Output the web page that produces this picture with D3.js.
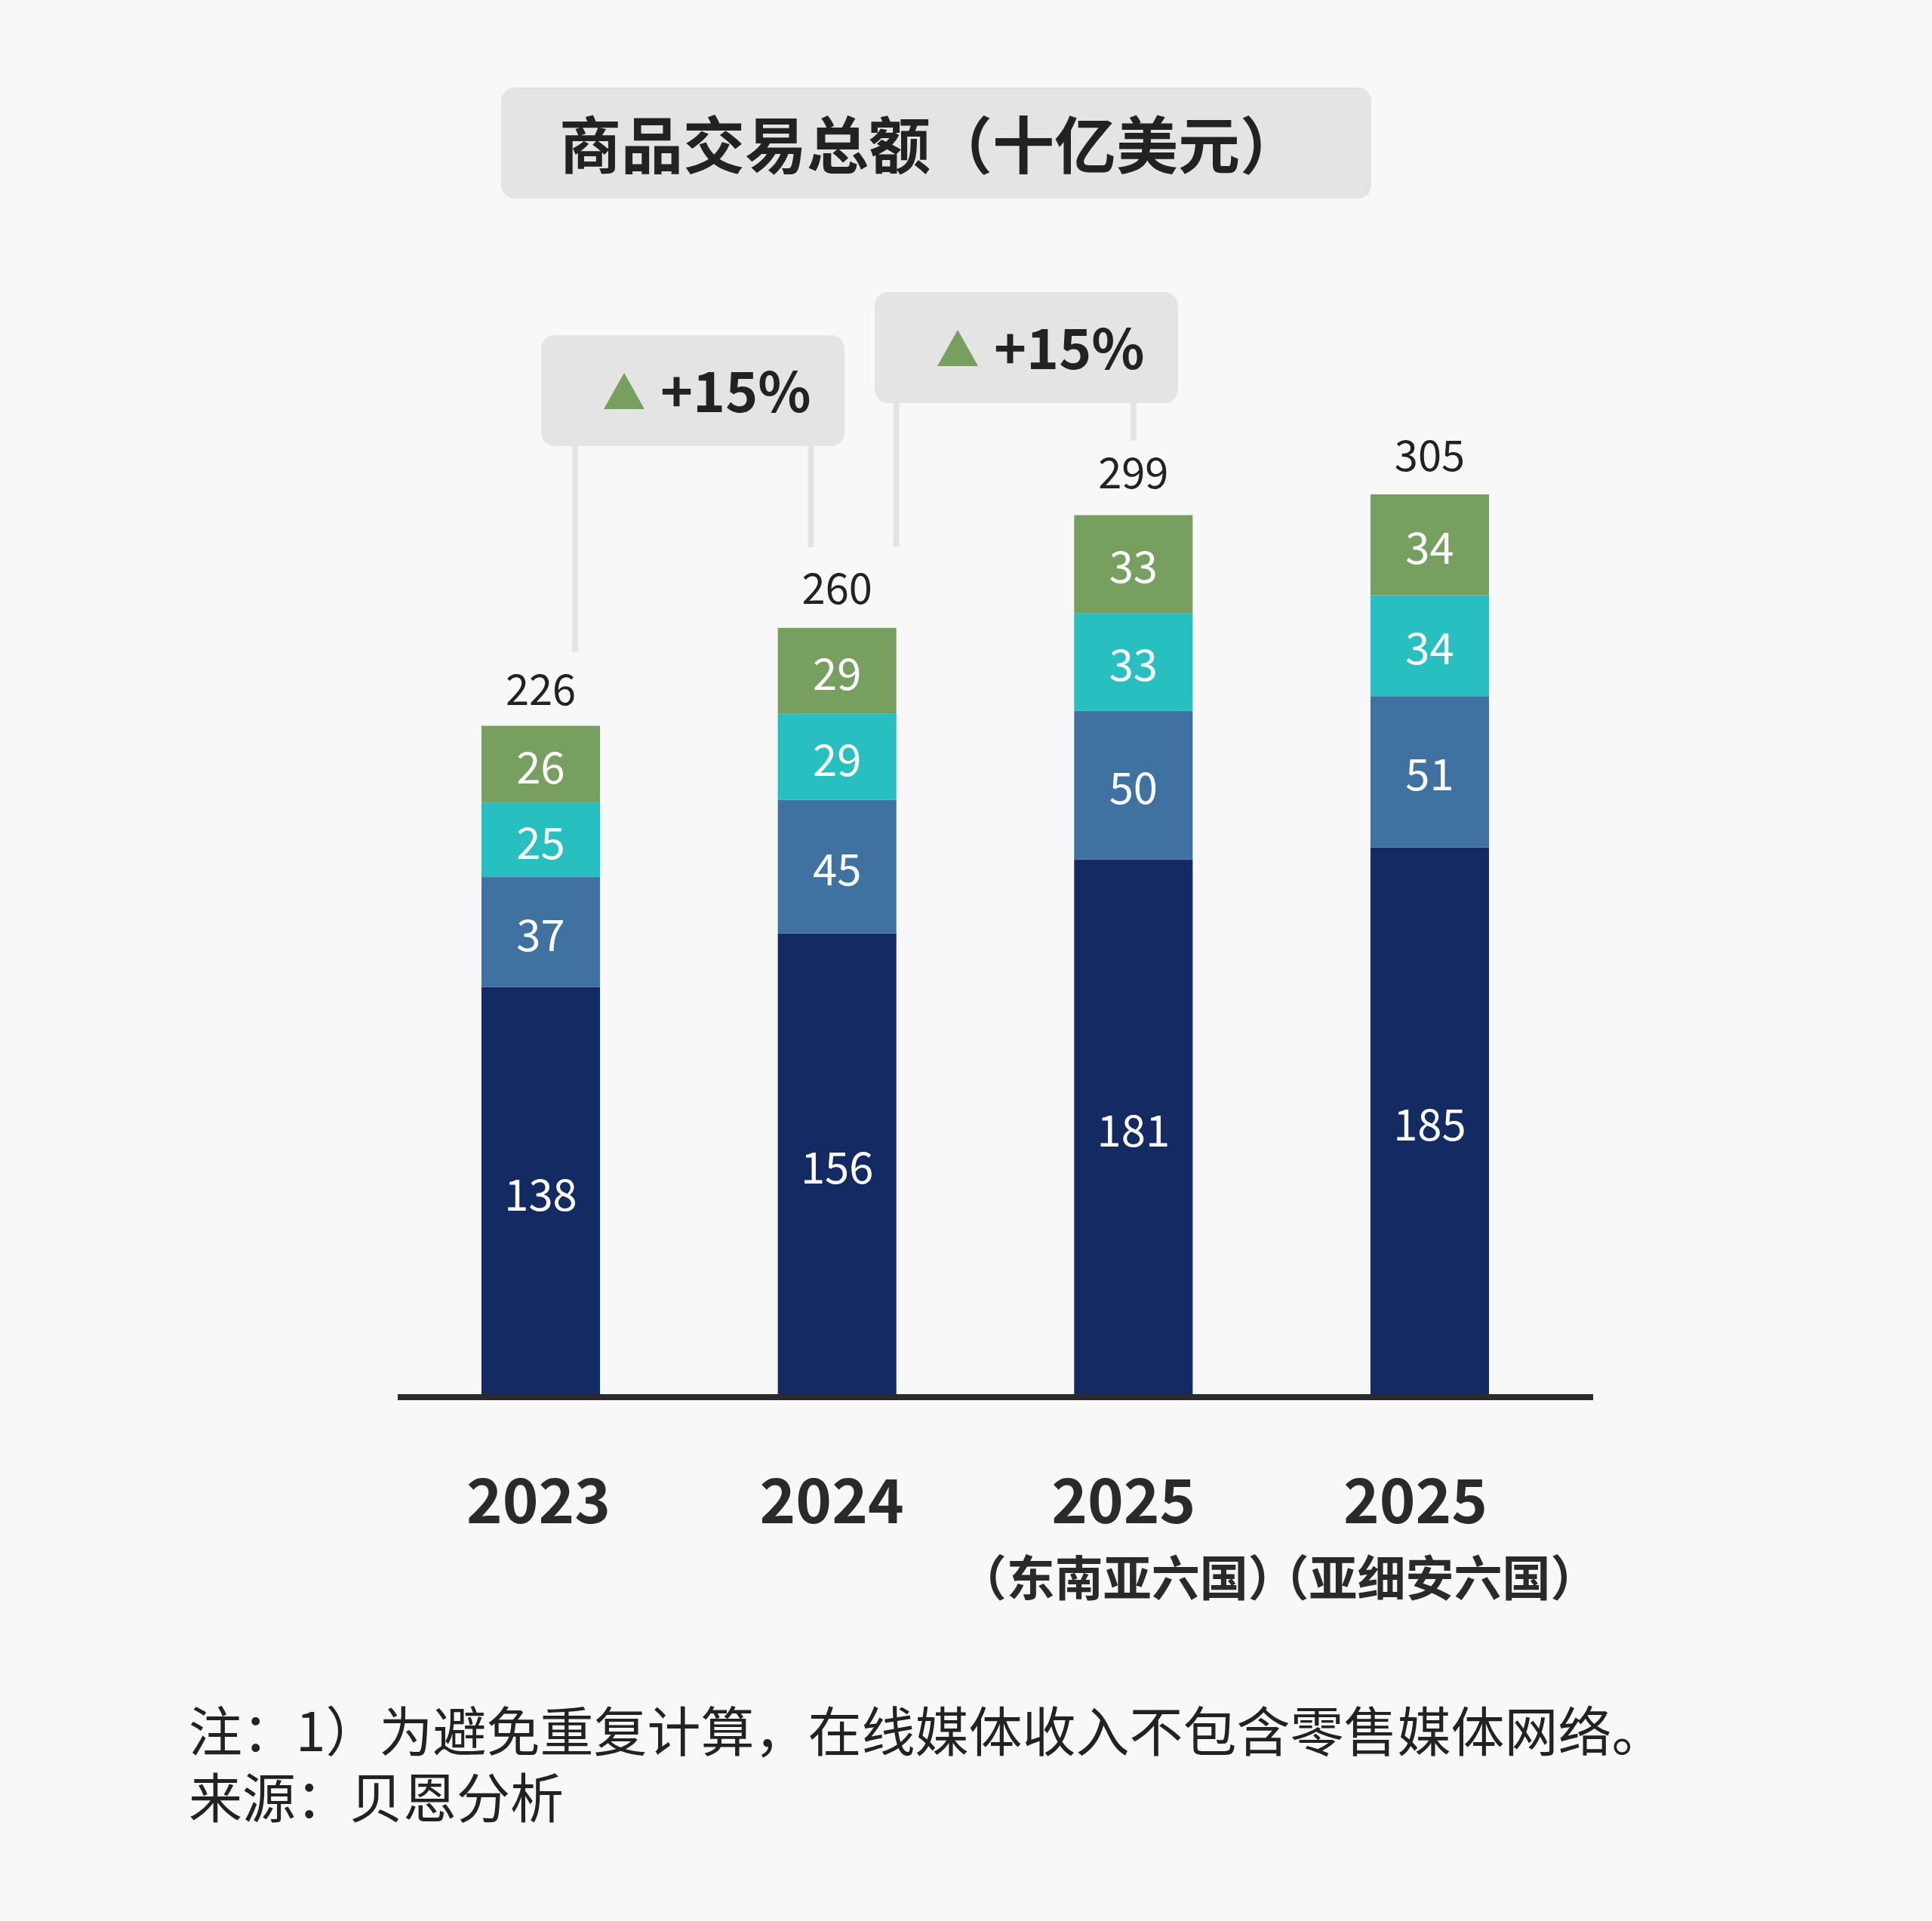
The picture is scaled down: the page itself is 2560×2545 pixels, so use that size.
<!DOCTYPE html>
<html><head><meta charset="utf-8">
<script src="https://cdn.jsdelivr.net/npm/d3@7"></script>
<style>body{margin:0;background:#f8f8f8}svg{display:block}</style>
</head><body>
<script>
const categories = ["2023","2024","2025a","2025b"];
const yearLabels = ["2023","2024","2025","2025"];
const subLabels = ["","","（东南亚六国）","（亚细安六国）"];
const seriesNames = ["s1","s2","s3","s4"];
const s1 = [138,156,181,185];
const s2 = [37,45,50,51];
const s3 = [25,29,33,34];
const s4 = [26,29,33,34];
const totals = [226,260,299,305];
const colors = ["#142a63","#3f72a0","#27bfbf","#77a060"];
const growth = [{label:"+15%", from:"2023", to:"2024"},{label:"+15%", from:"2024", to:"2025a"}];

const W=2560,H=2545;
const font="'Noto Sans CJK SC','Noto Sans',sans-serif";
const svg=d3.select("body").append("svg").attr("width",W).attr("height",H).style("font-family",font);
svg.append("rect").attr("width",W).attr("height",H).attr("fill","#f8f8f8");

svg.append("rect").attr("x",664).attr("y",116).attr("width",1153).attr("height",147).attr("rx",18).attr("fill","#e4e4e4");
svg.append("text").attr("x",1233).attr("y",187).attr("text-anchor","middle").attr("dominant-baseline","central")
 .attr("font-size",82).attr("font-weight",700).attr("fill","#222").text("商品交易总额（十亿美元）");

const x=d3.scaleBand().domain(categories).range([638,1973]).paddingInner(0.6).paddingOuter(0);
const y=d3.scaleLinear().domain([0,305]).range([1850,651]);

const rows=categories.map((c,i)=>({cat:c,s1:s1[i],s2:s2[i],s3:s3[i],s4:s4[i]}));
const stack=d3.stack().keys(seriesNames)(rows);
const g=svg.append("g");
stack.forEach((layer,li)=>{
  layer.forEach(d=>{
    g.append("rect").attr("x",x(d.data.cat)).attr("width",x.bandwidth())
     .attr("y",y(d[1])).attr("height",y(d[0])-y(d[1])).attr("fill",colors[li]);
    g.append("text").attr("x",x(d.data.cat)+x.bandwidth()/2).attr("y",(y(d[0])+y(d[1]))/2)
     .attr("text-anchor","middle").attr("dominant-baseline","central").attr("font-size",58).attr("fill","#fff")
     .text(d[1]-d[0]);
  });
});
const yearOff=[-3,-7,-13,-19], subOff=[0,0,-8,0];
categories.forEach((c,i)=>{
  const cx=x(c)+x.bandwidth()/2;
  svg.append("text").attr("x",cx).attr("y",y(totals[i])-52)
   .attr("text-anchor","middle").attr("dominant-baseline","central").attr("font-size",56).attr("fill","#222").text(totals[i]);
  svg.append("text").attr("x",cx+yearOff[i]).attr("y",1982)
   .attr("text-anchor","middle").attr("dominant-baseline","central").attr("font-size",81).attr("font-weight",700).attr("fill","#2a2a2a").text(yearLabels[i]);
  if(subLabels[i]) svg.append("text").attr("x",cx+subOff[i]).attr("y",2086)
   .attr("text-anchor","middle").attr("dominant-baseline","central").attr("font-size",64).attr("font-weight",700).attr("fill","#2a2a2a").text(subLabels[i]);
});
svg.append("line").attr("x1",527).attr("x2",2111).attr("y1",1851).attr("y2",1851).attr("stroke","#2a2a2a").attr("stroke-width",8);

const boxes=[{x:717,y:444},{x:1159,y:387}];
const bw=x.bandwidth();
growth.forEach((gr,i)=>{
  const b=boxes[i];
  const fi=categories.indexOf(gr.from), ti=categories.indexOf(gr.to);
  let xa,ya,xb,yb;
  if(i==0){ xa=x(gr.from)+bw*0.79; ya=y(totals[fi])-98; xb=x(gr.to)+bw*0.28; yb=y(totals[ti])-103; }
  else { xa=x(gr.from)+bw; ya=y(totals[fi])-103; xb=x(gr.to)+bw/2; yb=y(totals[ti])-91; }
  svg.append("line").attr("x1",xa).attr("x2",xa).attr("y1",b.y+100).attr("y2",ya).attr("stroke","#e4e4e4").attr("stroke-width",8);
  svg.append("line").attr("x1",xb).attr("x2",xb).attr("y1",b.y+100).attr("y2",yb).attr("stroke","#e4e4e4").attr("stroke-width",8);
  svg.append("rect").attr("x",b.x).attr("y",b.y).attr("width",402).attr("height",147).attr("rx",18).attr("fill","#e4e4e4");
  const tx=b.x+110, ty=b.y+74;
  svg.append("path").attr("d",`M${tx-27},${ty+24}L${tx+27},${ty+24}L${tx},${ty-24}Z`).attr("fill","#77a060");
  svg.append("text").attr("x",tx+48).attr("y",ty-4).attr("dominant-baseline","central").attr("font-size",73).attr("font-weight",700).attr("fill","#222").text(gr.label);
});

svg.append("text").attr("x",250).attr("y",2289).attr("dominant-baseline","central").attr("font-size",71).attr("fill","#222").text("注：1）为避免重复计算，在线媒体收入不包含零售媒体网络。");
svg.append("text").attr("x",250).attr("y",2377).attr("dominant-baseline","central").attr("font-size",71).attr("fill","#222").text("来源：贝恩分析");
</script>
</body></html>
